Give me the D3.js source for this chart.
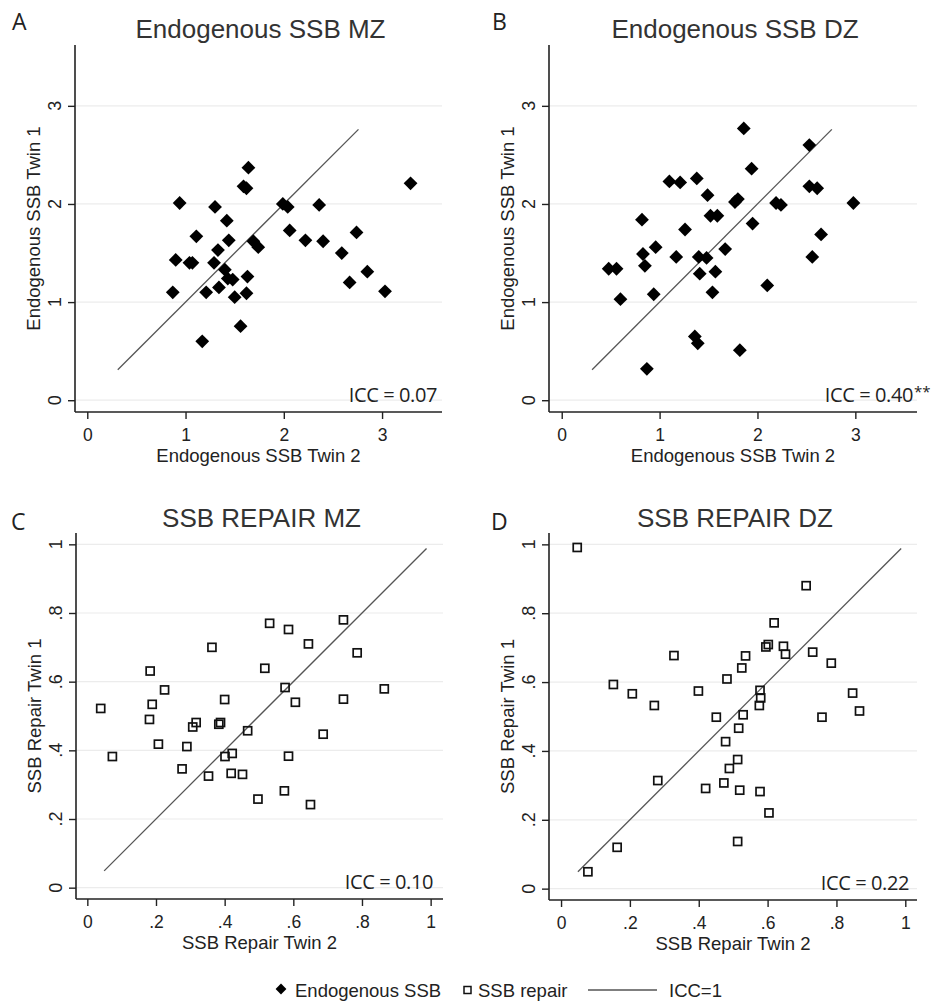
<!DOCTYPE html>
<html>
<head>
<meta charset="utf-8">
<script src="https://cdn.jsdelivr.net/npm/d3@7/dist/d3.min.js"></script>
<style>
  html, body { margin: 0; padding: 0; background: #fff; }
  svg { display: block; }
</style>
</head>
<body>
<svg id="chart" width="937" height="1005"></svg>
<script>
// ---------------- DATA ----------------
// Endogenous SSB, MZ twins: [Twin 2, Twin 1]
const endoMZ = [
  [0.94,2.01],[0.90,1.43],[0.87,1.10],[1.04,1.40],[1.07,1.40],[1.11,1.67],
  [1.21,1.10],[1.17,0.60],[1.30,1.97],[1.33,1.53],[1.29,1.40],[1.34,1.15],
  [1.42,1.83],[1.44,1.63],[1.40,1.33],[1.43,1.24],[1.48,1.23],[1.50,1.05],
  [1.56,0.755],[1.63,1.26],[1.62,1.09],[1.64,2.37],[1.59,2.18],[1.62,2.16],
  [1.69,1.62],[1.74,1.56],[1.99,2.00],[2.04,1.97],[2.06,1.73],[2.22,1.63],
  [2.36,1.99],[2.40,1.62],[2.59,1.50],[2.67,1.20],[2.74,1.71],[2.85,1.31],
  [3.03,1.11],[3.29,2.21]
];
// Endogenous SSB, DZ twins
const endoDZ = [
  [0.48,1.34],[0.56,1.34],[0.60,1.03],[0.82,1.84],[0.83,1.49],[0.85,1.37],
  [0.87,0.32],[0.96,1.56],[0.94,1.08],[1.10,2.23],[1.21,2.22],[1.17,1.46],
  [1.26,1.74],[1.38,2.26],[1.40,1.46],[1.41,1.29],[1.36,0.65],[1.39,0.58],
  [1.48,1.45],[1.49,2.09],[1.52,1.88],[1.59,1.88],[1.57,1.31],[1.54,1.10],
  [1.67,1.54],[1.77,2.02],[1.80,2.05],[1.86,2.77],[1.82,0.51],[1.94,2.36],
  [1.95,1.80],[2.10,1.17],[2.19,2.01],[2.24,1.99],[2.53,2.60],[2.53,2.18],
  [2.61,2.16],[2.56,1.46],[2.65,1.69],[2.98,2.01]
];
// SSB repair, MZ twins
const repairMZ = [
  [0.039,0.522],[0.073,0.382],[0.183,0.631],[0.189,0.534],[0.181,0.490],
  [0.207,0.418],[0.225,0.576],[0.276,0.346],[0.290,0.411],[0.307,0.468],
  [0.317,0.481],[0.353,0.325],[0.363,0.700],[0.383,0.476],[0.388,0.481],
  [0.400,0.548],[0.401,0.382],[0.422,0.391],[0.419,0.333],[0.452,0.330],
  [0.467,0.457],[0.497,0.258],[0.517,0.639],[0.531,0.770],[0.576,0.583],
  [0.586,0.752],[0.586,0.383],[0.574,0.282],[0.606,0.540],[0.644,0.710],
  [0.650,0.242],[0.687,0.447],[0.746,0.780],[0.746,0.549],[0.786,0.684],
  [0.865,0.579]
];
// SSB repair, DZ twins
const repairDZ = [
  [0.047,0.991],[0.078,0.049],[0.163,0.120],[0.152,0.593],[0.207,0.566],
  [0.271,0.532],[0.281,0.314],[0.328,0.677],[0.399,0.574],[0.420,0.291],
  [0.451,0.498],[0.478,0.427],[0.482,0.609],[0.473,0.307],[0.489,0.349],
  [0.513,0.375],[0.516,0.466],[0.513,0.137],[0.519,0.286],[0.525,0.641],
  [0.529,0.505],[0.536,0.676],[0.576,0.532],[0.578,0.576],[0.580,0.554],
  [0.578,0.282],[0.595,0.702],[0.602,0.709],[0.604,0.220],[0.619,0.772],
  [0.646,0.704],[0.652,0.681],[0.712,0.880],[0.731,0.687],[0.758,0.498],
  [0.785,0.655],[0.847,0.568],[0.867,0.516]
];
// ICC = 1 reference line endpoints (x = y)
const iccLineEndo = [0.31, 2.76];
const iccLineRepair = [0.049, 0.988];
// tick values / labels
const endoTicks = [0, 1, 2, 3];
const repairTicks = [0, 0.2, 0.4, 0.6, 0.8, 1];
const repairTickLabels = ["0", ".2", ".4", ".6", ".8", "1"];
const panelLetters = ["A", "B", "C", "D"];
const panelTitles = ["Endogenous SSB MZ", "Endogenous SSB DZ", "SSB REPAIR MZ", "SSB REPAIR DZ"];
const iccTexts = ["ICC = 0.07", "ICC = 0.40", "ICC = 0.10", "ICC = 0.22"];
const iccStars = ["", "**", "", ""];
const xTitles = ["Endogenous SSB Twin 2", "Endogenous SSB Twin 2", "SSB Repair Twin 2", "SSB Repair Twin 2"];
const yTitles = ["Endogenous SSB Twin 1", "Endogenous SSB Twin 1", "SSB Repair Twin 1", "SSB Repair Twin 1"];
const legendLabels = ["Endogenous SSB", "SSB repair", "ICC=1"];

// ---------------- LAYOUT ----------------
const FONT = "'Liberation Sans', Arial, Helvetica, sans-serif";
const FONT2 = "'Open Sans', 'Liberation Sans', sans-serif";
const AXIS = "#222";

const panels = [
  { data: endoMZ, shape: "diamond", line: iccLineEndo, ticks: endoTicks, tickLabels: endoTicks.map(String),
    xDom: [-0.125, 3.61], yDom: [-0.12, 3.62], x0: 75, x1: 442, y0: 45, y1: 412,
    letterX: 12, letterY: 30, titleY: 38, iccDx: 5 },
  { data: endoDZ, shape: "diamond", line: iccLineEndo, ticks: endoTicks, tickLabels: endoTicks.map(String),
    xDom: [-0.13, 3.63], yDom: [-0.12, 3.62], x0: 549, x1: 917, y0: 45, y1: 412,
    letterX: 492, letterY: 30, titleY: 38, iccDx: 4 },
  { data: repairMZ, shape: "square", line: iccLineRepair, ticks: repairTicks, tickLabels: repairTickLabels,
    xDom: [-0.033, 1.036], yDom: [-0.033, 1.033], x0: 76, x1: 443, y0: 533, y1: 899,
    letterX: 11, letterY: 530, titleY: 527, iccDx: 10 },
  { data: repairDZ, shape: "square", line: iccLineRepair, ticks: repairTicks, tickLabels: repairTickLabels,
    xDom: [-0.035, 1.034], yDom: [-0.033, 1.033], x0: 549, x1: 917, y0: 533, y1: 900,
    letterX: 491, letterY: 530, titleY: 527, iccDx: 8 }
];

const svg = d3.select("#chart");
svg.append("rect").attr("width", 937).attr("height", 1005).attr("fill", "#fff");

const diamondPath = r => `M0,${-r}L${r},0L0,${r}L${-r},0Z`;

panels.forEach((p, i) => {
  const g = svg.append("g");
  const x = d3.scaleLinear().domain(p.xDom).range([p.x0, p.x1]);
  const y = d3.scaleLinear().domain(p.yDom).range([p.y1, p.y0]);

  // gridlines
  g.append("g").selectAll("line").data(p.ticks).join("line")
    .attr("x1", p.x0).attr("x2", p.x1)
    .attr("y1", d => y(d)).attr("y2", d => y(d))
    .attr("stroke", "#ececec").attr("stroke-width", 1.2);

  // y axis
  const yAxis = d3.axisLeft(y).tickValues(p.ticks).tickSize(7).tickFormat("");
  const ya = g.append("g").attr("transform", `translate(${p.x0},0)`).call(yAxis);
  ya.select(".domain").attr("d", `M0,${p.y1}V${p.y0}`).attr("stroke", AXIS).attr("stroke-width", 1.6);
  ya.selectAll(".tick line").attr("stroke", AXIS).attr("stroke-width", 1.4);
  // rotated y tick labels
  g.append("g").selectAll("text").data(p.ticks).join("text")
    .attr("transform", (d) => `translate(${p.x0 - 14},${y(d)}) rotate(-90)`)
    .attr("text-anchor", "middle")
    .attr("font-family", FONT).attr("font-size", 18).attr("fill", "#222")
    .text((d, j) => p.tickLabels[j]);

  // x axis
  const xAxis = d3.axisBottom(x).tickValues(p.ticks).tickSize(7).tickFormat((d, j) => p.tickLabels[j]);
  const xa = g.append("g").attr("transform", `translate(0,${p.y1})`).call(xAxis);
  xa.select(".domain").attr("d", `M${p.x0},0H${p.x1}`).attr("stroke", AXIS).attr("stroke-width", 1.6);
  xa.selectAll(".tick line").attr("stroke", AXIS).attr("stroke-width", 1.4);
  xa.selectAll(".tick text").attr("y", 0).attr("dy", 0)
    .attr("transform", "translate(0,29)")
    .attr("font-family", FONT).attr("font-size", 17.5).attr("fill", "#222");

  // axis titles
  g.append("text").attr("x", (p.x0 + p.x1) / 2).attr("y", p.y1 + 50)
    .attr("text-anchor", "middle").attr("font-family", FONT).attr("font-size", 18.5).attr("fill", "#222")
    .text(xTitles[i]);
  g.append("text").attr("transform", `translate(${p.x0 - 35},${(p.y0 + p.y1) / 2}) rotate(-90)`)
    .attr("text-anchor", "middle").attr("font-family", FONT).attr("font-size", 18.5).attr("fill", "#222")
    .text(yTitles[i]);

  // panel title & letter
  g.append("text").attr("x", (p.x0 + p.x1) / 2 + 2).attr("y", p.titleY)
    .attr("text-anchor", "middle").attr("font-family", FONT).attr("font-size", 26).attr("fill", "#333")
    .text(panelTitles[i]);
  g.append("text").attr("x", p.letterX).attr("y", p.letterY)
    .attr("font-family", FONT2).attr("font-size", 23).attr("fill", "#222")
    .text(panelLetters[i]);

  // ICC = 1 line
  g.append("line")
    .attr("x1", x(p.line[0])).attr("y1", y(p.line[0]))
    .attr("x2", x(p.line[1])).attr("y2", y(p.line[1]))
    .attr("stroke", "#555").attr("stroke-width", 1.3);

  // points
  if (p.shape === "diamond") {
    g.append("g").selectAll("path").data(p.data).join("path")
      .attr("transform", d => `translate(${x(d[0])},${y(d[1])})`)
      .attr("d", diamondPath(6.9)).attr("fill", "#000");
  } else {
    g.append("g").selectAll("rect").data(p.data).join("rect")
      .attr("x", d => x(d[0]) - 4).attr("y", d => y(d[1]) - 4)
      .attr("width", 8).attr("height", 8)
      .attr("fill", "none").attr("stroke", "#111").attr("stroke-width", 1.7);
  }

  // ICC annotation
  const iccX = p.x1 - p.iccDx;
  g.append("text").attr("x", iccX).attr("y", p.y1 - 10)
    .attr("text-anchor", "end").attr("font-family", FONT2).attr("font-size", 20)
    .attr("letter-spacing", -0.4).attr("fill", "#222")
    .text(iccTexts[i]);
  if (iccStars[i]) {
    g.append("text").attr("x", iccX + 1).attr("y", p.y1 - 15)
      .attr("font-family", FONT2).attr("font-size", 15).attr("fill", "#222")
      .text(iccStars[i]);
  }
});

// ---------------- LEGEND ----------------
const legY = 997;
const leg = svg.append("g");
leg.append("path").attr("transform", `translate(281,${legY - 8})`).attr("d", diamondPath(5.4)).attr("fill", "#000");
leg.append("text").attr("x", 295).attr("y", legY).attr("font-family", FONT).attr("font-size", 18.5).attr("fill", "#222").text(legendLabels[0]);
leg.append("rect").attr("x", 464).attr("y", legY - 10.5).attr("width", 7).attr("height", 7)
  .attr("fill", "none").attr("stroke", "#111").attr("stroke-width", 1.5);
leg.append("text").attr("x", 478).attr("y", legY).attr("font-family", FONT).attr("font-size", 18.5).attr("fill", "#222").text(legendLabels[1]);
leg.append("line").attr("x1", 588).attr("x2", 657).attr("y1", legY - 7).attr("y2", legY - 7)
  .attr("stroke", "#555").attr("stroke-width", 1.3);
leg.append("text").attr("x", 669).attr("y", legY).attr("font-family", FONT).attr("font-size", 18.5).attr("fill", "#222").text(legendLabels[2]);
</script>
</body>
</html>
